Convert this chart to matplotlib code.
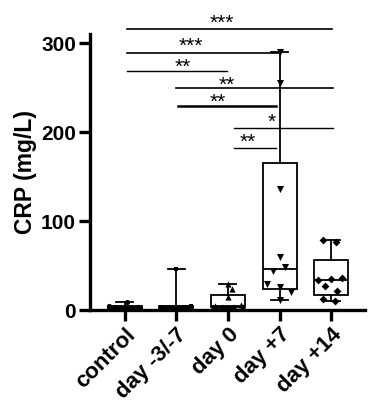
import numpy as np
import matplotlib
matplotlib.use("Agg")
import matplotlib.pyplot as plt
import matplotlib.transforms as mtransforms

plt.rcParams['font.family'] = ['Liberation Sans', 'DejaVu Sans']
plt.rcParams['font.weight'] = 'bold'

# groups and CRP values (mg/L)
groups = ["control", "day -3/-7", "day 0", "day +7", "day +14"]
crp_control = [9, 5, 4, 3, 3, 2, 2, 2, 1, 1]
crp_day_m3 = [46, 5, 4, 4, 3, 3, 3, 2, 2, 1]
crp_day0 = [29, 24, 15, 6, 5, 4, 4, 3, 3, 2]
crp_day7 = [290, 255, 136, 60, 48.7, 44, 29, 25.5, 20, 11]
crp_day14 = [79, 76, 36, 35, 33.7, 27, 21.7, 12, 10]
# horizontal scatter of the points inside each column
jit_control = [0.05, -0.3, 0.25, -0.2, 0.1, -0.1, 0.3, 0.0, -0.25, 0.18]
jit_day_m3 = [0.0, 0.28, -0.28, 0.15, -0.15, 0.05, 0.22, -0.22, 0.1, -0.05]
jit_day0 = [0.0, 0.07, 0.0, 0.25, -0.25, 0.12, -0.12, 0.3, -0.3, 0.0]
jit_day7 = [0.0, 0.0, 0.0, 0.0, 0.11, -0.13, -0.25, 0.0, 0.22, 0.0]
jit_day14 = [-0.15, 0.09, 0.21, -0.01, -0.25, -0.12, 0.11, -0.15, 0.08]
markers = ["o", "s", "^", "v", "D"]
marker_sizes = [14, 12, 20, 26, 16]

# significance brackets: line from x0 to x1 at y, stars centred at (tx, ty)
sig_x0 = [0.04, 0.04, 0.04, 0.99, 1.03, 2.12, 2.12]
sig_x1 = [4.02, 3.0, 1.98, 4.04, 2.93, 4.04, 2.93]
sig_y = [316, 289, 269, 249.5, 229.5, 204.5, 182]
sig_lw = [1.2, 1.2, 1.0, 1.2, 1.8, 1.0, 1.0]
sig_text = ["***", "***", "**", "**", "**", "*", "**"]
sig_tx = [1.88, 1.28, 1.13, 1.98, 1.81, 2.85, 2.39]
sig_ty = [327.7, 301.5, 278, 258, 239, 216, 193.6]

data = [crp_control, crp_day_m3, crp_day0, crp_day7, crp_day14]
jitter = [jit_control, jit_day_m3, jit_day0, jit_day7, jit_day14]

fig = plt.figure(figsize=(3.76, 4.07), dpi=100)
ax = fig.add_axes([0.239, 0.238, 0.732, 0.678])

# Prism style quartiles, whiskers min to max
stats = []
for vals in data:
    v = np.array(vals, dtype=float)
    q1, med, q3 = np.percentile(v, [25, 50, 75], method="weibull")
    stats.append(dict(med=med, q1=q1, q3=q3, whislo=v.min(), whishi=v.max(), fliers=[]))

pos = np.arange(len(groups))
ax.bxp(stats, positions=pos, widths=0.66, showfliers=False, patch_artist=True,
       boxprops=dict(facecolor="white", edgecolor="black", linewidth=1.3),
       medianprops=dict(color="black", linewidth=1.3),
       whiskerprops=dict(color="black", linewidth=1.3),
       capprops=dict(color="black", linewidth=1.3))

for i, vals in enumerate(data):
    xs = pos[i] + np.array(jitter[i])
    ax.scatter(xs, vals, marker=markers[i], s=marker_sizes[i], color="black",
               zorder=5, linewidths=0)

for x0, x1, y, lw, t, tx, ty in zip(sig_x0, sig_x1, sig_y, sig_lw, sig_text, sig_tx, sig_ty):
    ax.plot([x0, x1], [y, y], color="black", lw=lw, clip_on=False, zorder=4)
    # asterisks sit high in the em box, so shift the baseline down
    ax.annotate(t, (tx, ty), xytext=(0, -7.5), textcoords="offset points",
                ha="center", va="baseline", fontsize=15, fontweight="normal",
                annotation_clip=False)

ax.set_xlim(-0.68, 4.66)
ax.set_ylim(0, 310)
ax.set_yticks([0, 100, 200, 300])
ax.set_xticks(pos)
ax.set_xticklabels(groups, rotation=45, ha="right", rotation_mode="anchor",
                   fontsize=16, fontweight="bold")
shift = mtransforms.ScaledTranslation(5 / 100, 0, fig.dpi_scale_trans)
for lab in ax.get_xticklabels():
    lab.set_transform(lab.get_transform() + shift)
for lab in ax.get_yticklabels():
    lab.set_fontsize(15)
    lab.set_fontweight("bold")
ax.set_ylabel("CRP (mg/L)", fontsize=16.5, fontweight="bold", labelpad=3)
ax.spines['top'].set_visible(False)
ax.spines['right'].set_visible(False)
ax.spines['left'].set_linewidth(2.4)
ax.spines['bottom'].set_linewidth(2.4)
ax.tick_params(axis="both", width=2.4, length=8, pad=2)

fig.savefig("out.png", dpi=100)
